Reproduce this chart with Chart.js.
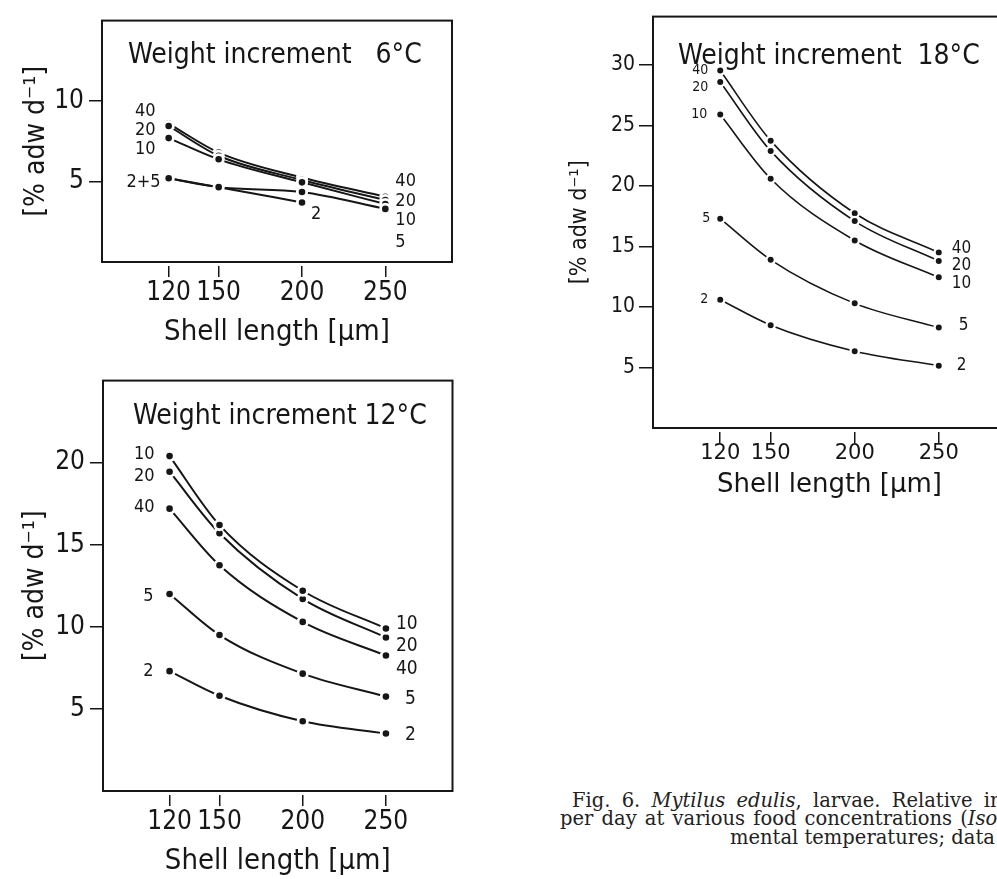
<!DOCTYPE html>
<html lang="en">
<head>
<meta charset="UTF-8">
<title>Mytilus edulis larvae - weight increment</title>
<script src="https://cdn.jsdelivr.net/npm/chart.js"></script>
<style>
  html, body { margin: 0; padding: 0; background: #fff; overflow: hidden; }
  body { width: 997px; height: 879px; position: relative; }
  .panel { position: absolute; }
  .caption {
    position: absolute;
    font-family: 'DejaVu Serif', serif;
    font-size: 19.5px;
    line-height: 19.5px;
    color: #222;
    white-space: nowrap;
  }
</style>
</head>
<body>
<div class="panel" style="left:0;top:0"><canvas id="c6" width="460" height="360"></canvas></div>
<div class="panel" style="left:0;top:360px"><canvas id="c12" width="460" height="519"></canvas></div>
<div class="panel" style="left:560px;top:0"><canvas id="c18" width="460" height="520"></canvas></div>

<div class="caption" style="left:572px;top:791px;word-spacing:5px">Fig. 6. <i>Mytilus edulis</i>, larvae. Relative increment</div>
<div class="caption" style="left:560px;top:809px;word-spacing:2px">per day at various food concentrations (<i>Isochrysis</i></div>
<div class="caption" style="left:730px;top:828px">mental temperatures; data from</div>

<script>
  // shell length classes (µm) and food concentrations
  const shellLength = [120, 150, 200, 250];
  const foodLevels = ['2', '5', '10', '20', '40'];
  const xTicks = [120, 150, 200, 250];

  // weight increment, % adw per day, 6 °C
  const w6_2  = [5.2, 4.65, 3.7, null];
  const w6_5  = [5.2, 4.65, 4.35, 3.3];
  const w6_10 = [7.7, 6.38, 4.95, 3.6];
  const w6_20 = [8.45, 6.6, 5.1, 3.85];
  const w6_40 = [8.6, 6.8, 5.25, 4.05];
  const yTicks6 = [5, 10];

  // 12 °C
  const w12_2  = [7.3, 5.8, 4.25, 3.5];
  const w12_5  = [12.0, 9.5, 7.15, 5.75];
  const w12_10 = [20.4, 16.2, 12.2, 9.9];
  const w12_20 = [19.45, 15.7, 11.7, 9.35];
  const w12_40 = [17.2, 13.75, 10.3, 8.25];
  const yTicks12 = [5, 10, 15, 20];

  // 18 °C
  const w18_2  = [10.6, 8.5, 6.35, 5.15];
  const w18_5  = [17.3, 13.9, 10.3, 8.3];
  const w18_10 = [25.9, 20.6, 15.5, 12.45];
  const w18_20 = [28.6, 22.9, 17.1, 13.8];
  const w18_40 = [29.55, 23.75, 17.75, 14.5];
  const yTicks18 = [5, 10, 15, 20, 25, 30];

  const ink = '#161616';
  const narrow = "'DejaVu Sans Condensed', 'DejaVu Sans', sans-serif";
  const wide = "'DejaVu Sans', sans-serif";

  // frame, heading inside the plot, and the concentration labels at the curve ends
  const frameAndLabels = {
    id: 'frameAndLabels',
    afterDatasetsDraw(chart, args, opts) {
      const { ctx, chartArea: a } = chart;
      ctx.save();
      ctx.strokeStyle = ink;
      ctx.lineWidth = 2;
      ctx.strokeRect(a.left, a.top, a.right - a.left, a.bottom - a.top);

      ctx.fillStyle = ink;
      ctx.font = opts.headSize + 'px ' + narrow;
      ctx.textAlign = 'left';
      ctx.textBaseline = 'alphabetic';
      ctx.fillText(opts.heading, a.left + opts.headX, a.top + opts.headY);

      ctx.textBaseline = 'middle';
      opts.labels.forEach(l => {
        const pt = chart.getDatasetMeta(l.s).data[l.at];
        ctx.font = (l.at === 0 ? opts.leftSize : opts.rightSize) + 'px ' + narrow;
        ctx.textAlign = l.dx < 0 ? 'right' : 'left';
        ctx.fillText(l.text, pt.x + l.dx, pt.y + l.dy);
      });
      ctx.restore();
    }
  };

  function panel(id, series, yMax, yTicks, lay) {
    const datasets = series.map((vals, i) => ({
      label: foodLevels[i],
      data: shellLength.map((x, j) => ({ x: x, y: vals[j] })),
      borderColor: ink,
      borderWidth: lay.line,
      backgroundColor: ink,
      pointBackgroundColor: ink,
      pointBorderColor: '#fff',
      pointBorderWidth: lay.gap,
      pointRadius: lay.dot,
      cubicInterpolationMode: 'monotone',
      fill: false
    }));

    new Chart(document.getElementById(id), {
      type: 'line',
      data: { datasets },
      options: {
        responsive: false,
        animation: false,
        events: [],
        layout: { padding: { top: lay.top, right: lay.right, left: 0, bottom: 0 } },
        plugins: {
          legend: { display: false },
          tooltip: { enabled: false },
          colors: { enabled: false },
          frameAndLabels: lay.deco
        },
        scales: {
          x: {
            type: 'linear',
            min: 80,
            max: 290,
            afterBuildTicks: s => { s.ticks = xTicks.map(v => ({ value: v })); },
            afterFit: s => { s.height = lay.xh; },
            border: { display: false },
            grid: {
              drawOnChartArea: false,
              drawTicks: true,
              tickLength: lay.xtl,
              tickBorderDash: [0, 4, lay.xtl],
              color: ink,
              lineWidth: 1.5
            },
            ticks: { color: ink, font: { family: lay.xFace, size: lay.tick }, padding: lay.xpad, maxRotation: 0 },
            title: {
              display: true,
              text: 'Shell length [µm]',
              color: ink,
              font: { family: lay.xFace, size: lay.xaxis },
              padding: { top: 0, bottom: lay.xtp }
            }
          },
          y: {
            min: 0,
            max: yMax,
            afterBuildTicks: s => { s.ticks = yTicks.map(v => ({ value: v })); },
            afterFit: s => { s.width = lay.yw; },
            border: { display: false },
            grid: {
              drawOnChartArea: false,
              drawTicks: true,
              tickLength: lay.ytl,
              color: ink,
              lineWidth: 1.5
            },
            ticks: { color: ink, font: { family: narrow, size: lay.tick }, padding: lay.ypad },
            title: {
              display: true,
              text: '[% adw d\u207B\u00B9]',
              color: ink,
              font: { family: narrow, size: lay.yaxis },
              padding: { top: lay.ytp, bottom: 0 }
            }
          }
        }
      },
      plugins: [frameAndLabels]
    });
  }

  panel('c6', [w6_2, w6_5, w6_10, w6_20, w6_40], 15, yTicks6, {
    top: 15, right: 8, xh: 98, yw: 102, xFace: narrow,
    tick: 26, xaxis: 29, yaxis: 28, xtl: 15, xpad: 1, xtp: 10, ytl: 13, ypad: 5, ytp: 20,
    line: 2, dot: 4.7, gap: 2.8,
    deco: {
      heading: 'Weight increment   6°C', headSize: 28, headX: 26, headY: 42,
      leftSize: 18, rightSize: 18,
      labels: [
        { s: 4, at: 0, text: '40', dx: -13, dy: -12 },
        { s: 3, at: 0, text: '20', dx: -13, dy: 4 },
        { s: 2, at: 0, text: '10', dx: -13, dy: 11 },
        { s: 1, at: 0, text: '2+5', dx: -8, dy: 4 },
        { s: 4, at: 3, text: '40', dx: 10, dy: -15 },
        { s: 3, at: 3, text: '20', dx: 10, dy: 1 },
        { s: 2, at: 3, text: '10', dx: 10, dy: 16 },
        { s: 1, at: 3, text: '5', dx: 10, dy: 33 },
        { s: 0, at: 2, text: '2', dx: 9, dy: 12 }
      ]
    }
  });

  panel('c12', [w12_2, w12_5, w12_10, w12_20, w12_40], 25, yTicks12, {
    top: 20, right: 7, xh: 88, yw: 103, xFace: narrow,
    tick: 26, xaxis: 29, yaxis: 28, xtl: 15, xpad: 1, xtp: 0, ytl: 13, ypad: 5, ytp: 19,
    line: 2, dot: 4.7, gap: 2.8,
    deco: {
      heading: 'Weight increment 12°C', headSize: 28, headX: 30, headY: 43,
      leftSize: 18, rightSize: 19,
      labels: [
        { s: 2, at: 0, text: '10', dx: -15, dy: -2 },
        { s: 3, at: 0, text: '20', dx: -15, dy: 5 },
        { s: 4, at: 0, text: '40', dx: -15, dy: -1 },
        { s: 1, at: 0, text: '5', dx: -16, dy: 2 },
        { s: 0, at: 0, text: '2', dx: -16, dy: 0 },
        { s: 2, at: 3, text: '10', dx: 10, dy: -4 },
        { s: 3, at: 3, text: '20', dx: 10, dy: 9 },
        { s: 4, at: 3, text: '40', dx: 10, dy: 13 },
        { s: 1, at: 3, text: '5', dx: 19, dy: 2 },
        { s: 0, at: 3, text: '2', dx: 19, dy: 2 }
      ]
    }
  });

  panel('c18', [w18_2, w18_5, w18_10, w18_20, w18_40], 34, yTicks18, {
    top: 8, right: 14, xh: 92, yw: 93, xFace: wide,
    tick: 21, xaxis: 26, yaxis: 23, xtl: 15, xpad: -2, xtp: 19, ytl: 14, ypad: 4, ytp: 6,
    line: 1.6, dot: 4.2, gap: 2.4,
    deco: {
      heading: 'Weight increment  18°C', headSize: 28, headX: 25, headY: 47,
      leftSize: 14, rightSize: 17,
      labels: [
        { s: 4, at: 0, text: '40', dx: -12, dy: 0 },
        { s: 3, at: 0, text: '20', dx: -12, dy: 5 },
        { s: 2, at: 0, text: '10', dx: -13, dy: 0 },
        { s: 1, at: 0, text: '5', dx: -10, dy: 0 },
        { s: 0, at: 0, text: '2', dx: -12, dy: 0 },
        { s: 4, at: 3, text: '40', dx: 13, dy: -4 },
        { s: 3, at: 3, text: '20', dx: 13, dy: 5 },
        { s: 2, at: 3, text: '10', dx: 13, dy: 6 },
        { s: 1, at: 3, text: '5', dx: 20, dy: -2 },
        { s: 0, at: 3, text: '2', dx: 18, dy: 0 }
      ]
    }
  });
</script>
</body>
</html>
